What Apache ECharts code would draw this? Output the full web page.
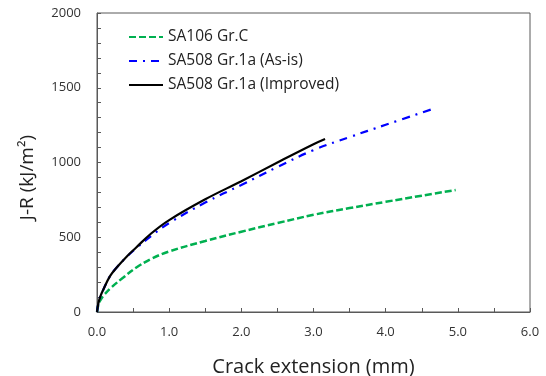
<!DOCTYPE html>
<html><head><meta charset="utf-8">
<script src="https://cdn.jsdelivr.net/npm/echarts@6/dist/echarts.min.js"></script>
<style>html,body{margin:0;padding:0;background:#fff}#c{width:546px;height:376px}</style>
</head><body><div id="c"></div>
<script>
const xTicks = [0, 1, 2, 3, 4, 5, 6];
const yTicks = [0, 500, 1000, 1500, 2000];
const sa106X = [0, 0.02, 0.05, 0.1, 0.2, 0.36, 0.54, 0.75, 1.0, 1.5, 2.0, 2.5, 3.0, 3.5, 4.0, 4.5, 4.97];
const sa106Y = [0, 50, 82, 115, 165, 229, 296, 355, 405, 475, 537, 595, 650, 695, 737, 778, 816];
const asIsX = [0, 0.02, 0.045, 0.09, 0.18, 0.27, 0.41, 0.54, 0.75, 1.0, 1.5, 2.0, 2.5, 3.0, 3.5, 4.0, 4.65];
const asIsY = [0, 60, 103, 152, 240, 296, 368, 425, 508, 595, 732, 850, 970, 1083, 1170, 1252, 1358];
const impX = [0, 0.02, 0.045, 0.09, 0.18, 0.27, 0.41, 0.54, 0.75, 1.0, 1.5, 2.0, 2.5, 3.0, 3.16];
const impY = [0, 60, 103, 152, 240, 296, 370, 430, 525, 615, 754, 875, 1000, 1122, 1157];
const names = ['SA106 Gr.C', 'SA508 Gr.1a (As-is)', 'SA508 Gr.1a (Improved)'];
const zip = (a, b) => a.map((v, i) => [v, b[i]]);
const font = '"Open Sans", "Noto Sans", sans-serif';
const chart = echarts.init(document.getElementById('c'));
chart.setOption({
  animation: false,
  textStyle: {fontFamily: font},
  grid: {left: 97, right: 16, top: 13, bottom: 64, show: true, borderColor: '#595959', borderWidth: 1,
         containLabel: false, outerBoundsMode: 'none'},
  legend: {
    orient: 'vertical', left: 123, top: 24, itemWidth: 34, itemHeight: 10, itemGap: 8,
    itemStyle: {opacity: 0},
    textStyle: {fontSize: 15.5, color: '#222', fontFamily: font},
    data: names
  },
  xAxis: {
    type: 'value', min: xTicks[0], max: xTicks[xTicks.length - 1], interval: 1,
    name: 'Crack extension (mm)', nameLocation: 'middle', nameGap: 45,
    nameTextStyle: {fontSize: 20, color: '#222'},
    axisLine: {lineStyle: {color: '#595959'}},
    axisTick: {inside: true, length: 4, lineStyle: {color: '#595959'}},
    minorTick: {show: true, splitNumber: 2, length: 4, lineStyle: {color: '#595959'}},
    splitLine: {show: false},
    axisLabel: {fontSize: 13, color: '#333', margin: 14, formatter: v => v.toFixed(1)}
  },
  yAxis: {
    type: 'value', min: yTicks[0], max: yTicks[yTicks.length - 1], interval: 500,
    name: 'J-R (kJ/m²)', nameLocation: 'middle', nameGap: 60,
    nameTextStyle: {fontSize: 19, color: '#222', padding: [0, 30, 0, 0]},
    axisLine: {show: true, lineStyle: {color: '#595959'}},
    axisTick: {show: true, inside: true, length: 4, lineStyle: {color: '#595959'}},
    minorTick: {show: true, splitNumber: 5, length: 4, lineStyle: {color: '#595959'}},
    splitLine: {show: false},
    axisLabel: {fontSize: 13, color: '#333', margin: 16, formatter: v => String(v)}
  },
  series: [
    {name: names[0], type: 'line', smooth: 0.4, showSymbol: false, symbol: 'none',
     data: zip(sa106X, sa106Y), itemStyle: {color: '#00b050'},
     lineStyle: {color: '#00b050', width: 2.5, type: [7, 3]}},
    {name: names[1], type: 'line', smooth: 0.4, showSymbol: false, symbol: 'none',
     data: zip(asIsX, asIsY), itemStyle: {color: '#0000ff'},
     lineStyle: {color: '#0000ff', width: 2.2, type: [8, 6, 2, 6]}},
    {name: names[2], type: 'line', smooth: 0.4, showSymbol: false, symbol: 'none',
     data: zip(impX, impY), itemStyle: {color: '#000'},
     lineStyle: {color: '#000', width: 2.2, type: 'solid'}}
  ]
});
</script></body></html>
